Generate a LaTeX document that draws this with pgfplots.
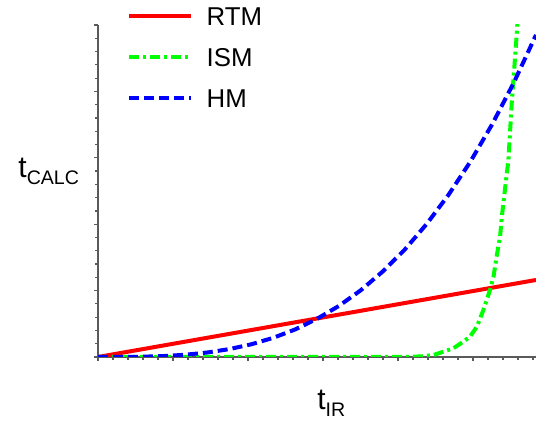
\documentclass[border=0pt]{standalone}
\usepackage{pgfplots}
\pgfplotsset{compat=1.18}
\usepackage{fontspec}
\setmainfont{Liberation Sans}
\definecolor{axisgray}{RGB}{90,90,90}
\definecolor{rtm}{RGB}{255,0,0}
\definecolor{ism}{RGB}{0,255,0}
\definecolor{hm}{RGB}{0,0,255}
\begin{document}
\begin{tikzpicture}
\useasboundingbox (-49pt,-32pt) rectangle (219pt,178.5pt);
\begin{axis}[
  scale only axis, width=219pt, height=166pt,
  xmin=0, xmax=1, ymin=0, ymax=1,
  clip mode=individual,
  axis x line=bottom, axis y line=left,
  axis line style={-, draw=axisgray, line width=1pt},
  xtick distance=0.171233, minor x tick num=4,
  ytick distance=0.2, minor y tick num=4,
  xticklabels={}, yticklabels={},
  tick align=outside,
  major tick length=1.8pt, minor tick length=1.4pt,
  every tick/.style={draw=axisgray, line width=0.6pt},
  legend style={at={(rel axis cs:0.0655,1.054)}, anchor=north west, draw=none, fill=none,
    inner sep=0pt, row sep=11.4pt, column sep=6.8pt,
    font=\fontsize{12.9}{12.9}\selectfont,
    nodes={inner sep=0pt, text height=9pt, text depth=0pt}},
  legend cell align=left,
  legend image code/.code={\draw[#1] (0pt,0pt) -- (31pt,0pt);},
]
\addplot[rtm, line width=2pt] coordinates {(0,0) (1,0.232)};
\addlegendentry{RTM}
\addplot[ism, line width=2pt, dash pattern=on 5pt off 2pt on 1.5pt off 2pt] coordinates {
(0,0) (0.70,0) (0.74,0.002) (0.766,0.006) (0.811,0.026) (0.834,0.046) (0.849,0.061)
(0.865,0.091) (0.880,0.142) (0.895,0.202) (0.903,0.242) (0.910,0.302) (0.918,0.362)
(0.922,0.423) (0.929,0.503) (0.937,0.593) (0.945,0.774) (0.954,0.934) (0.957,0.994) (0.958,1.02)};
\addlegendentry{ISM}
\addplot[hm, line width=2pt, dash pattern=on 5pt off 2.5pt] coordinates {
(0,0) (0.05,0.0001) (0.1,0.0008) (0.15,0.0028) (0.2,0.0068) (0.25,0.0136) (0.3,0.0238)
(0.35,0.0382) (0.4,0.0577) (0.45,0.0829) (0.5,0.115) (0.55,0.1538) (0.6,0.201)
(0.65,0.2574) (0.7,0.323) (0.75,0.400) (0.8,0.488) (0.85,0.588) (0.9,0.701)
(0.95,0.828) (1.0,0.97)};
\addlegendentry{HM}
\node[anchor=base west, inner sep=0pt] at (rel axis cs:-0.1826,0.542)
  {{\fontsize{15}{15}\selectfont t}\raisebox{-3.5pt}{\fontsize{9.8}{9.8}\selectfont CALC}};
\node[anchor=base west, inner sep=0pt] at (rel axis cs:0.5,-0.1596)
  {{\fontsize{15}{15}\selectfont t}\raisebox{-3.5pt}{\fontsize{9.8}{9.8}\selectfont IR}};
\end{axis}
\end{tikzpicture}
\end{document}
